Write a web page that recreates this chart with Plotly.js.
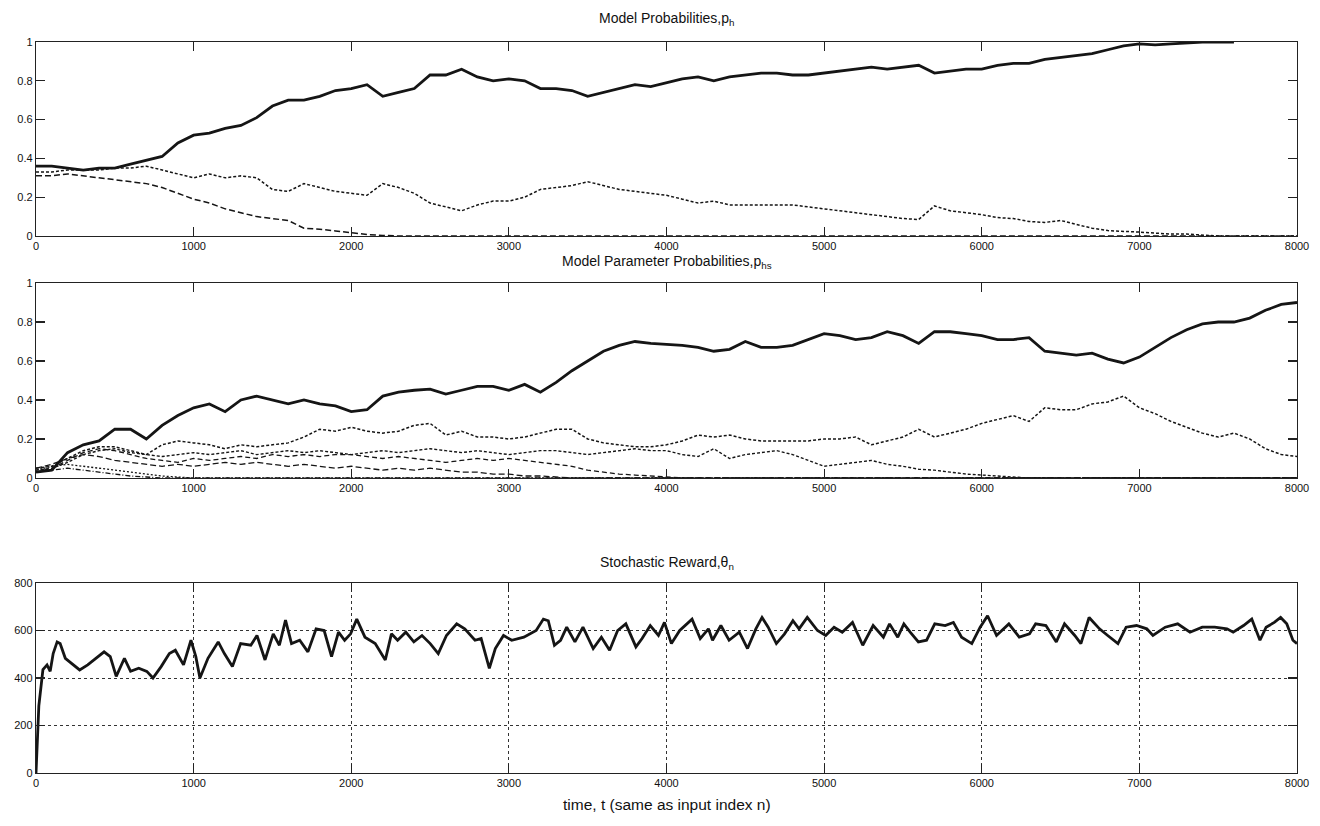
<!DOCTYPE html>
<html>
<head>
<meta charset="utf-8">
<script src="https://cdn.plot.ly/plotly-3.0.1.min.js"></script>
<style>html,body{margin:0;padding:0;background:#fff}#chart{width:1320px;height:826px}</style>
</head>
<body>
<div id="chart"></div>
<script>
// ---------- time grid (step 100) ----------
const t100 = [0,100,200,300,400,500,600,700,800,900,1000,1100,1200,1300,1400,1500,1600,1700,1800,1900,
2000,2100,2200,2300,2400,2500,2600,2700,2800,2900,3000,3100,3200,3300,3400,3500,3600,3700,3800,3900,
4000,4100,4200,4300,4400,4500,4600,4700,4800,4900,5000,5100,5200,5300,5400,5500,5600,5700,5800,5900,
6000,6100,6200,6300,6400,6500,6600,6700,6800,6900,7000,7100,7200,7300,7400,7500,7600,7700,7800,7900,8000];

// ---------- Panel 1: model probabilities p_h ----------
const ph1 = [0.36,0.36,0.35,0.34,0.35,0.35,0.37,0.39,0.41,0.48,0.52,0.53,0.555,0.57,0.61,0.67,0.70,0.70,0.72,0.75,
0.76,0.78,0.72,0.74,0.76,0.83,0.83,0.86,0.82,0.80,0.81,0.80,0.76,0.76,0.75,0.72,0.74,0.76,0.78,0.77,
0.79,0.81,0.82,0.80,0.82,0.83,0.84,0.84,0.83,0.83,0.84,0.85,0.86,0.87,0.86,0.87,0.88,0.84,0.85,0.86,
0.86,0.88,0.89,0.89,0.91,0.92,0.93,0.94,0.96,0.98,0.99,0.985,0.99,0.995,1.0,1.0,1.0];
const ph2 = [0.33,0.33,0.34,0.34,0.34,0.35,0.35,0.36,0.34,0.32,0.30,0.32,0.30,0.31,0.30,0.24,0.23,0.27,0.25,0.23,
0.22,0.21,0.27,0.25,0.22,0.17,0.15,0.13,0.16,0.18,0.18,0.20,0.24,0.25,0.26,0.28,0.26,0.24,0.23,0.22,
0.21,0.19,0.17,0.18,0.16,0.16,0.16,0.16,0.16,0.15,0.14,0.13,0.12,0.11,0.10,0.09,0.085,0.155,0.13,0.12,
0.11,0.095,0.09,0.075,0.07,0.08,0.06,0.04,0.028,0.025,0.02,0.015,0.01,0.01,0.005,0,0,0,0,0,0];
const ph3T = [0,100,200,300,400,500,600,700,800,900,1000,1100,1200,1300,1400,1500,1600,1700,1800,1900,2000,2100,2200,2300,8000];
const ph3 = [0.31,0.31,0.32,0.31,0.30,0.29,0.28,0.27,0.25,0.22,0.19,0.17,0.14,0.12,0.10,0.09,0.08,0.04,0.035,0.026,0.017,0.008,0.003,0,0];

// ---------- Panel 2: model parameter probabilities p_hs ----------
const phsMain = [0.03,0.04,0.13,0.17,0.19,0.25,0.25,0.20,0.27,0.32,0.36,0.38,0.34,0.40,0.42,0.40,0.38,0.40,0.38,0.37,
0.34,0.35,0.42,0.44,0.45,0.456,0.43,0.45,0.47,0.47,0.45,0.48,0.44,0.49,0.55,0.60,0.65,0.68,0.70,0.69,
0.685,0.68,0.67,0.65,0.66,0.70,0.67,0.67,0.68,0.71,0.74,0.73,0.71,0.72,0.75,0.73,0.69,0.75,0.75,0.74,
0.73,0.71,0.71,0.72,0.65,0.64,0.63,0.64,0.61,0.59,0.62,0.67,0.72,0.76,0.79,0.80,0.80,0.82,0.86,0.89,0.90];
const phsA = [0.05,0.06,0.10,0.14,0.16,0.16,0.14,0.12,0.17,0.19,0.18,0.17,0.15,0.17,0.16,0.17,0.18,0.21,0.25,0.24,
0.26,0.24,0.23,0.24,0.27,0.28,0.22,0.24,0.21,0.21,0.20,0.21,0.23,0.25,0.25,0.20,0.18,0.17,0.16,0.16,
0.17,0.19,0.22,0.21,0.22,0.20,0.19,0.19,0.19,0.19,0.20,0.20,0.21,0.17,0.19,0.21,0.25,0.21,0.23,0.25,
0.28,0.30,0.32,0.29,0.36,0.35,0.35,0.38,0.39,0.42,0.36,0.33,0.29,0.26,0.23,0.21,0.23,0.20,0.15,0.12,0.11];
const phsBT = [0,100,200,300,400,500,600,700,800,900,1000,1100,1200,1300,1400,1500,1600,1700,1800,1900,
2000,2100,2200,2300,2400,2500,2600,2700,2800,2900,3000,3100,3200,3300,3400,3500,3600,3700,3800,3900,
4000,4100,4200,4300,4400,4500,4600,4700,4800,4900,5000,5100,5200,5300,5400,5500,5600,5700,5800,5900,
6000,6100,6200,6300,8000];
const phsB = [0.04,0.05,0.08,0.12,0.14,0.15,0.13,0.12,0.11,0.12,0.13,0.12,0.13,0.14,0.12,0.13,0.14,0.13,0.14,0.13,
0.12,0.13,0.14,0.13,0.14,0.15,0.14,0.13,0.14,0.13,0.12,0.13,0.14,0.14,0.13,0.12,0.13,0.14,0.15,0.14,
0.14,0.12,0.11,0.15,0.10,0.12,0.13,0.14,0.12,0.09,0.06,0.07,0.08,0.09,0.07,0.06,0.045,0.04,0.03,0.02,
0.015,0.01,0.005,0,0];
const phsCT = [0,100,200,300,400,500,600,700,800,900,1000,1100,1200,1300,1400,1500,1600,1700,1800,1900,
2000,2100,2200,2300,2400,2500,2600,2700,2800,2900,3000,3100,3200,3300,3400,3500,3600,3700,3800,3900,4000,4100,8000];
const phsC = [0.03,0.05,0.09,0.13,0.15,0.14,0.12,0.10,0.09,0.08,0.10,0.09,0.10,0.11,0.10,0.12,0.11,0.12,0.11,0.12,
0.12,0.11,0.10,0.11,0.10,0.09,0.08,0.09,0.10,0.09,0.10,0.09,0.08,0.07,0.06,0.04,0.03,0.02,0.015,0.01,0.005,0,0];
const phsDT = [0,100,200,300,400,500,600,700,800,900,1000,1100,1200,1300,1400,1500,1600,1700,1800,1900,
2000,2100,2200,2300,2400,2500,2600,2700,2800,2900,3000,3100,3200,3300,3400,8000];
const phsD = [0.05,0.07,0.10,0.12,0.11,0.09,0.08,0.07,0.06,0.07,0.06,0.07,0.08,0.07,0.08,0.07,0.06,0.07,0.06,0.05,
0.06,0.05,0.04,0.05,0.04,0.05,0.04,0.03,0.03,0.02,0.02,0.01,0.01,0.005,0,0];
const phsET = [0,100,200,300,400,500,600,700,800,900,1000,8000];
const phsE = [0.04,0.06,0.07,0.06,0.05,0.04,0.03,0.02,0.01,0.005,0,0];
const phsFT = [0,100,200,300,400,500,600,700,800,8000];
const phsF = [0.03,0.04,0.05,0.04,0.03,0.02,0.01,0.005,0,0];

// ---------- Panel 3: stochastic reward theta_n ----------
const rewT = [0,18,44,70,90,109,134,153,186,225,277,328,380,432,471,509,561,600,652,703,
742,794,846,884,936,983,1014,1040,1091,1156,1195,1246,1298,1363,1402,1453,1505,1544,1583,1621,
1673,1725,1777,1828,1875,1919,1958,1996,2035,2087,2152,2216,2255,2294,2346,2397,2449,2501,2552,2604,
2669,2720,2785,2824,2876,2914,2966,3018,3095,3173,3219,3250,3289,3328,3367,3419,3470,3535,3587,3639,
3690,3742,3806,3845,3897,3949,3987,4031,4084,4162,4214,4266,4292,4345,4397,4462,4514,
4567,4606,4645,4697,4749,4802,4841,4893,4958,5010,5063,5115,5180,5245,5311,5376,5415,5467,5506,5546,
5598,5650,5702,5768,5820,5872,5937,5990,6037,6094,6172,6238,6303,6342,6407,6473,6525,6590,6629,6681,
6747,6799,6864,6916,6982,7047,7086,7164,7243,7321,7399,7478,7556,7595,7661,7713,7765,7804,7856,7896,
7935,7974,8000];
const rewV = [0,283,435,455,428,503,552,545,483,462,434,455,483,510,490,407,483,428,441,428,
400,448,503,517,455,559,490,400,483,552,503,448,545,538,579,476,586,538,644,545,
559,510,607,600,490,593,559,586,648,572,545,476,586,559,593,552,579,545,503,579,
628,607,559,566,441,524,579,559,572,600,648,641,538,559,614,552,614,524,572,517,
600,628,531,566,621,579,634,545,600,648,566,607,559,621,559,593,524,
607,655,614,545,586,641,607,655,600,579,614,593,634,538,621,572,628,572,628,593,
552,559,628,621,634,572,545,614,662,579,628,572,586,628,621,552,628,579,545,655,
607,579,545,614,621,607,579,614,628,593,614,614,607,593,621,648,559,614,634,655,
628,559,545];

const tickLabels = ['0','1000','2000','3000','4000','5000','6000','7000','8000'];

// ---------- traces ----------
const dk = '#151515';
function ln(x, y, xa, ya, w, dash){
  return {x:x, y:y, xaxis:xa, yaxis:ya, type:'scatter', mode:'lines',
          line:{color:dk, width:w, dash:dash}, hoverinfo:'skip', showlegend:false};
}
const data = [
  ln(t100, ph2, 'x', 'y', 1.5, '3px,2px'),
  ln(ph3T, ph3, 'x', 'y', 1.5, '6px,3px'),
  ln(t100.slice(0, ph1.length), ph1, 'x', 'y', 2.8, 'solid'),

  ln(phsFT, phsF, 'x2', 'y2', 1.3, '5px,2px,1px,2px'),
  ln(phsET, phsE, 'x2', 'y2', 1.3, '2px,2px'),
  ln(phsDT, phsD, 'x2', 'y2', 1.3, '6px,3px'),
  ln(phsCT, phsC, 'x2', 'y2', 1.3, '5px,3px'),
  ln(phsBT, phsB, 'x2', 'y2', 1.4, '3px,2px'),
  ln(t100, phsA, 'x2', 'y2', 1.5, '3px,2px'),
  ln(t100, phsMain, 'x2', 'y2', 2.8, 'solid'),

  ln(rewT, rewV, 'x3', 'y3', 2.8, 'solid')
];

// ---------- layout ----------
const tickFont = {family:'"Liberation Sans Narrow", "Liberation Sans", Arial, sans-serif', size:11, color:'#111'};
function xax(anchor, grid){
  return {anchor:anchor, domain:[0,1], range:[0,8000], tickmode:'array',
    tickvals:[0,1000,2000,3000,4000,5000,6000,7000,8000], ticktext:tickLabels,
    ticks:'inside', ticklen:9, tickwidth:1.2, tickcolor:'#222',
    showline:true, linecolor:'#222', linewidth:1.2, mirror:'ticks',
    zeroline:false, showgrid:grid, gridcolor:'#333', gridwidth:1, griddash:'dot',
    tickfont:tickFont, fixedrange:true};
}
function yax(anchor, dom, rng, dt, grid){
  return {anchor:anchor, domain:dom, range:rng, dtick:dt, tick0:0,
    ticks:'inside', ticklen:9, tickwidth:1.2, tickcolor:'#222',
    showline:true, linecolor:'#222', linewidth:1.2, mirror:'ticks',
    zeroline:false, showgrid:grid, gridcolor:'#333', gridwidth:1, griddash:'dot',
    tickfont:tickFont, fixedrange:true};
}
const titleFont = {family:'"Liberation Sans", Arial, sans-serif', size:14, color:'#111'};
const layout = {
  width:1320, height:826,
  margin:{l:36, r:23, t:42, b:53},
  paper_bgcolor:'#fff', plot_bgcolor:'#fff',
  showlegend:false,
  xaxis: xax('y', false),
  yaxis: yax('x', [0.7346, 1], [0,1], 0.2, false),
  xaxis2: xax('y2', false),
  yaxis2: yax('x2', [0.4036, 0.6703], [0,1], 0.2, false),
  xaxis3: xax('y3', true),
  yaxis3: yax('x3', [0, 0.2599], [0,800], 200, true),
  annotations:[
    {text:'Model Probabilities,p<sub>h</sub>', xref:'paper', yref:'paper', x:0.5, y:1.032, xanchor:'center', yanchor:'middle', showarrow:false, font:titleFont},
    {text:'Model Parameter Probabilities,p<sub>hs</sub>', xref:'paper', yref:'paper', x:0.5, y:0.699, xanchor:'center', yanchor:'middle', showarrow:false, font:titleFont},
    {text:'Stochastic Reward,\u03b8<sub>n</sub>', xref:'paper', yref:'paper', x:0.5, y:0.287, xanchor:'center', yanchor:'middle', showarrow:false, font:titleFont},
    {text:'time, t (same as input index n)', xref:'paper', yref:'paper', x:0.5, y:-0.043, xanchor:'center', yanchor:'middle', showarrow:false, font:{family:'"Liberation Sans", Arial, sans-serif', size:15.5, color:'#111'}}
  ]
};
Plotly.newPlot('chart', data, layout, {displayModeBar:false, staticPlot:true});
</script>
</body>
</html>
